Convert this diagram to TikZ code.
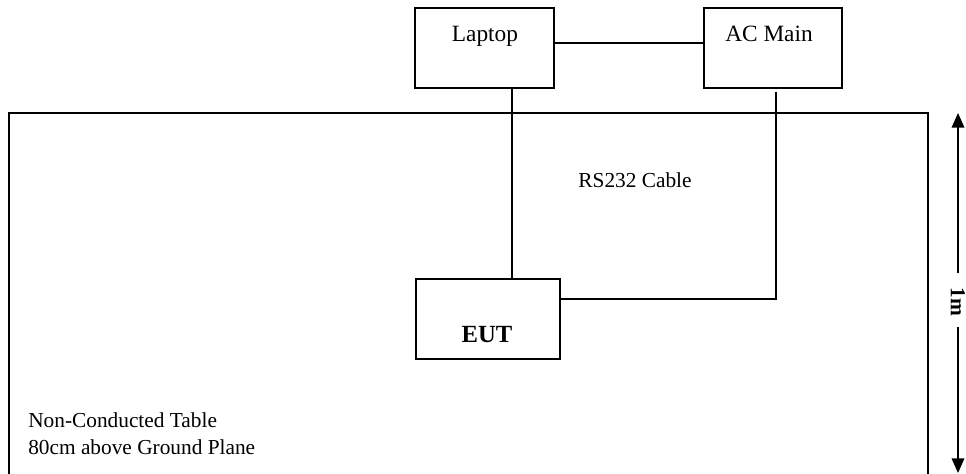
\documentclass[tikz,border=0pt]{standalone}
\usepackage{fontspec}
\setmainfont{Liberation Serif}
\usetikzlibrary{arrows.meta}
\begin{document}
\begin{tikzpicture}[x=0.75pt,y=-0.75pt,
  box/.style={draw,line width=1.3pt,minimum width=104pt,minimum height=60pt,inner sep=0pt},
  boxtext/.style={anchor=base,font=\fontsize{17.5}{21}\selectfont,inner sep=0pt},
  plain/.style={anchor=base,font=\fontsize{16}{19}\selectfont,inner sep=0pt},
  wire/.style={line width=1.3pt},
  arr/.style={line width=1pt,-{Triangle[width=9.5pt,length=11pt]}}]
\useasboundingbox (0,0) rectangle (966,474);
% table
\draw[wire] (9,474) -- (9,113) -- (928,113) -- (928,474);
% boxes
\node[box] (laptop) at (484.5,48) {};
\node[box] (acmain) at (773,48) {};
\node[box,minimum width=108pt] (eut) at (488,319) {};
\node[boxtext] (laptoptxt) at (485,42) {Laptop};
\node[boxtext] (acmaintxt) at (769,42) {AC Main};
\node[boxtext,font=\fontsize{18.5}{22}\selectfont\bfseries] (euttxt) at (487,342) {EUT};
% connectors
\coordinate (lv) at (512,0);
\coordinate (acstart) at (776,92);
\coordinate (eutin) at (560,299);
\coordinate (hy) at (0,43);
\draw[wire] (laptop.east |- hy) -- (acmain.west |- hy);
\draw[wire] (laptop.south -| lv) -- (eut.north -| lv);
\draw[wire] (acstart) |- (eut.east |- eutin);
% labels
\node[plain] (rs) at (635,187) {RS232 Cable};
\node[plain,anchor=base west] (tab1) at (28,427) {Non-Conducted Table};
\node[plain,anchor=base west] (tab2) at (28,454) {80cm above Ground Plane};
% 1m dimension
\node[rotate=-90,font=\fontsize{16}{19}\selectfont\bfseries,inner sep=0pt] (onem) at (958,302) {1m};
\coordinate (a1) at (958,273);
\coordinate (a2) at (958,327);
\coordinate (atop) at (958,113);
\coordinate (abot) at (958,473);
\draw[arr] (a1) -- (atop);
\draw[arr] (a2) -- (abot);
\end{tikzpicture}
\end{document}
